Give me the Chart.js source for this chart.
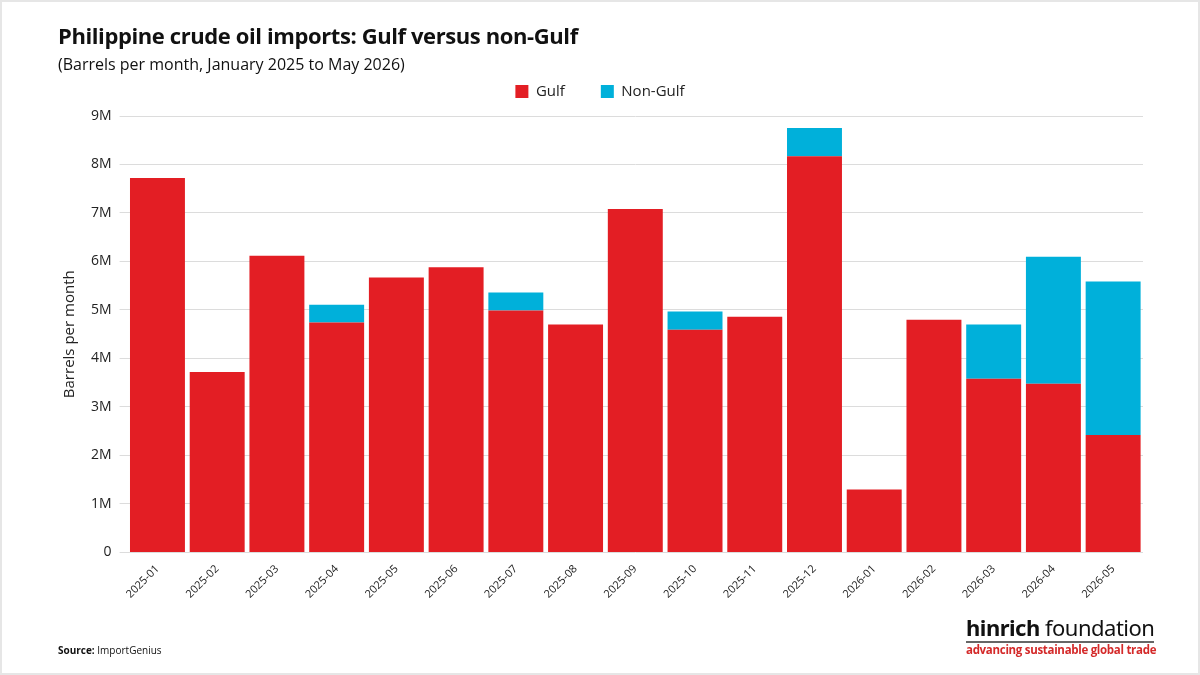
<!DOCTYPE html>
<html>
<head>
<meta charset="utf-8">
<script src="https://cdn.jsdelivr.net/npm/chart.js@4/dist/chart.umd.min.js"></script>
<style>
  html, body { margin: 0; padding: 0; background: #fff; }
  #wrap { position: relative; width: 1200px; height: 675px; box-sizing: border-box; border: 2px solid #e6e6e6; font-family: "Open Sans", "Noto Sans", sans-serif; }
  #title { position: absolute; left: 56px; top: 18px; font-size: 22px; font-weight: 700; color: #111; letter-spacing: -0.4px; }
  #subtitle { position: absolute; left: 56px; top: 51px; font-size: 16px; color: #111; }
  #source { position: absolute; left: 56px; top: 641px; font-size: 10px; color: #111; }
  #logo { position: absolute; left: 964px; top: 612px; white-space: nowrap; }
  #logo .name { font-family: "Noto Sans", sans-serif; font-size: 22px; color: #111; line-height: 26px; letter-spacing: -0.5px; }
  #logo .line { border-top: 2px solid #666; margin-top: 1px; width: 188px; }
  #logo .tag { font-size: 11.5px; color: #d42a2a; font-weight: 700; line-height: 14px; letter-spacing: -0.3px; }
  canvas { position: absolute; left: 0; top: 0; }
</style>
</head>
<body>
<div id="wrap">
  <canvas id="chart" width="1196" height="671"></canvas>
  <div id="title">Philippine crude oil imports: Gulf versus non-Gulf</div>
  <div id="subtitle">(Barrels per month, January 2025 to May 2026)</div>
  <div id="source"><b>Source:</b> ImportGenius</div>
  <div id="logo">
    <div class="name"><b>hinrich</b> foundation</div>
    <div class="line"></div>
    <div class="tag">advancing sustainable global trade</div>
  </div>
</div>
<script>
// months shown on the x axis
let months = ['2025-01', '2025-02', '2025-03', '2025-04', '2025-05', '2025-06', '2025-07', '2025-08', '2025-09',
              '2025-10', '2025-11', '2025-12', '2026-01', '2026-02', '2026-03', '2026-04', '2026-05'];
// barrels per month
let gulf    = [7720000, 3720000, 6120000, 4740000, 5670000, 5880000, 4990000, 4700000, 7080000,
               4590000, 4860000, 8170000, 1300000, 4800000, 3580000, 3480000, 2420000];
let nonGulf = [0, 0, 0, 370000, 0, 0, 370000, 0, 0,
               380000, 0, 580000, 0, 0, 1120000, 2620000, 3170000];
let seriesNames = ['Gulf', 'Non-Gulf'];
let seriesColors = ['#e31e24', '#00b0da'];

Chart.defaults.font.family = '"Open Sans", "Noto Sans", sans-serif';
Chart.defaults.color = '#222';

// a little more room under the legend
const legendGap = {
    id: 'legendGap',
    beforeInit(chart) {
        const fit = chart.legend.fit;
        chart.legend.fit = function () {
            fit.bind(chart.legend)();
            this.height += 7;
        };
    }
};

var ctx = document.getElementById('chart').getContext('2d');

new Chart(ctx, {
    type: 'bar',
    data: {
        labels: months,
        datasets: [
            { label: seriesNames[0], data: gulf, backgroundColor: seriesColors[0] },
            { label: seriesNames[1], data: nonGulf, backgroundColor: seriesColors[1] }
        ]
    },
    options: {
        responsive: false,
        animation: false,
        layout: { padding: { top: 46, left: 55, right: 55, bottom: 70 } },
        datasets: { bar: { barPercentage: 0.92, categoryPercentage: 1 } },
        plugins: {
            legend: {
                position: 'top',
                labels: { boxWidth: 13, boxHeight: 13, padding: 36, font: { size: 15 }, color: '#222' }
            },
            tooltip: { enabled: false }
        },
        scales: {
            x: {
                stacked: true,
                grid: { display: false },
                border: { display: false },
                ticks: { minRotation: 45, maxRotation: 45, font: { size: 11 }, color: '#222', padding: 2 }
            },
            y: {
                stacked: true,
                min: 0,
                max: 9000000,
                grid: { color: '#dcdcdc', lineWidth: 1 },
                border: { display: false },
                title: { display: true, text: 'Barrels per month', font: { size: 15 }, color: '#222', padding: 4 },
                ticks: {
                    stepSize: 1000000,
                    padding: 8,
                    font: { size: 14 },
                    color: '#222',
                    callback: function (v) { return v === 0 ? '0' : (v / 1000000) + 'M'; }
                }
            }
        }
    },
    plugins: [legendGap]
});
</script>
</body>
</html>
